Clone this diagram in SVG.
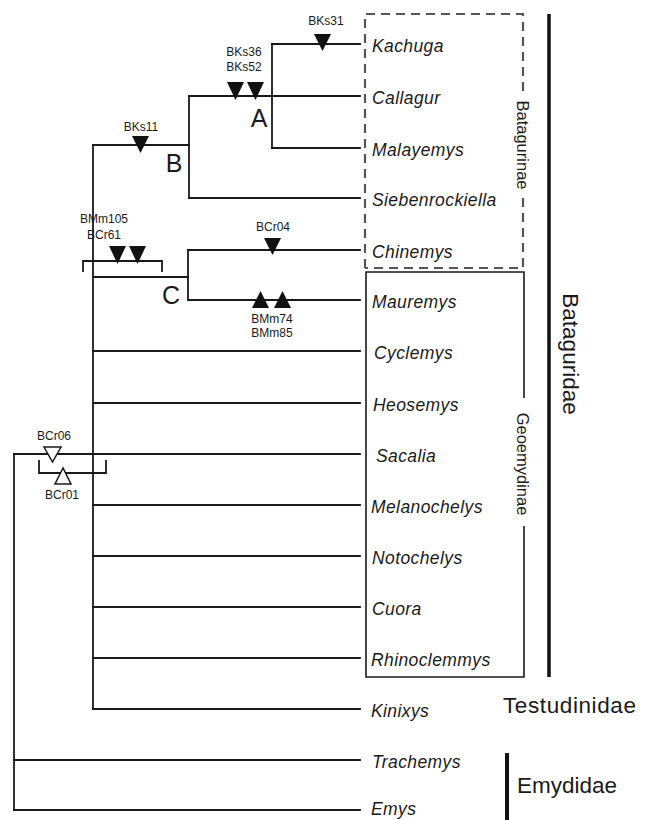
<svg xmlns="http://www.w3.org/2000/svg" width="650" height="820" viewBox="0 0 650 820">
<defs>
<style>
.ln{stroke:#1a1a1a;stroke-width:1.8;fill:none;stroke-linecap:square}
.tx{font-family:"Liberation Sans",Arial,sans-serif;font-style:italic;font-size:17.5px;letter-spacing:0.4px;fill:#1a1a1a}
.mk{font-family:"Liberation Sans",Arial,sans-serif;font-size:12px;fill:#1a1a1a;text-anchor:middle}
.cl{font-family:"Liberation Sans",Arial,sans-serif;font-size:25px;fill:#1a1a1a;text-anchor:middle}
.sub{font-family:"Liberation Sans",Arial,sans-serif;font-size:16.5px;fill:#1a1a1a;text-anchor:middle}
.fam{font-family:"Liberation Sans",Arial,sans-serif;font-size:22.5px;fill:#1a1a1a}
.tf{fill:#111;stroke:none}
.th{fill:#fff;stroke:#1a1a1a;stroke-width:1.5}
</style>
</defs>
<rect width="650" height="820" fill="#fff"/>

<g id="connectors">
  <!-- root -->
  <path class="ln" d="M14,454 V810"/>
  <path class="ln" d="M14,454 H93"/>
  <path class="ln" d="M14,760 H360"/>
  <path class="ln" d="M14,810 H360"/>
  <!-- main polytomy -->
  <path class="ln" d="M93,145 V709"/>
  <!-- B clade -->
  <path class="ln" d="M93,145 H189"/>
  <path class="ln" d="M189,96 V198"/>
  <path class="ln" d="M189,96 H360"/>
  <path class="ln" d="M189,198 H360"/>
  <!-- A clade -->
  <path class="ln" d="M272,44 V148"/>
  <path class="ln" d="M272,44 H360"/>
  <path class="ln" d="M272,148 H360"/>
  <!-- C clade -->
  <path class="ln" d="M93,277 H188"/>
  <path class="ln" d="M188,250 V300"/>
  <path class="ln" d="M188,250 H360"/>
  <path class="ln" d="M188,300 H360"/>
  <!-- other geoemydines -->
  <path class="ln" d="M93,351 H360"/>
  <path class="ln" d="M93,403 H360"/>
  <path class="ln" d="M93,454 H360"/>
  <path class="ln" d="M93,505 H360"/>
  <path class="ln" d="M93,556 H360"/>
  <path class="ln" d="M93,607 H360"/>
  <path class="ln" d="M93,658 H360"/>
  <path class="ln" d="M93,709 H360"/>
  <!-- brackets -->
  <path class="ln" d="M83,271 V261 H162 V271" stroke-width="1.5"/>
  <path class="ln" d="M39,461 V473 H106 V461" stroke-width="1.5"/>
</g>

<g id="boxes">
  <g id="box-batagurinae">
    <path d="M365,268 V14 H523 V92" fill="none" stroke="#555" stroke-width="2.2" stroke-dasharray="9 6"/>
    <path d="M523,198 V268 H365" fill="none" stroke="#555" stroke-width="2.2" stroke-dasharray="9 6"/>
    <rect x="522" y="88" width="2" height="3" fill="#555"/>
    <text class="sub" transform="translate(517,145) rotate(90)">Batagurinae</text>
  </g>
  <g id="box-geoemydinae">
    <path d="M524,398 V272 H366 V677 H524 V526" fill="none" stroke="#1a1a1a" stroke-width="1.6"/>
    <text class="sub" transform="translate(517,464) rotate(90)">Geoemydinae</text>
  </g>
</g>

<g id="families">
  <g id="fam-bataguridae">
    <path d="M549,14 V677" stroke="#111" stroke-width="3.5"/>
    <text class="fam" text-anchor="middle" transform="translate(563,354) rotate(90)">Bataguridae</text>
  </g>
  <g id="fam-testudinidae">
    <text class="fam" x="503" y="713" letter-spacing="0.6">Testudinidae</text>
  </g>
  <g id="fam-emydidae">
    <path d="M507,753 V820" stroke="#111" stroke-width="4"/>
    <text class="fam" x="517" y="793">Emydidae</text>
  </g>
</g>

<g id="taxa">
  <g id="t-kachuga"><text class="tx" x="372" y="52">Kachuga</text></g>
  <g id="t-callagur"><text class="tx" x="372" y="104">Callagur</text></g>
  <g id="t-malayemys"><text class="tx" x="372" y="156">Malayemys</text></g>
  <g id="t-siebenrockiella"><text class="tx" x="372" y="206">Siebenrockiella</text></g>
  <g id="t-chinemys"><text class="tx" x="372" y="258">Chinemys</text></g>
  <g id="t-mauremys"><text class="tx" x="372" y="308">Mauremys</text></g>
  <g id="t-cyclemys"><text class="tx" x="374" y="359">Cyclemys</text></g>
  <g id="t-heosemys"><text class="tx" x="373" y="411">Heosemys</text></g>
  <g id="t-sacalia"><text class="tx" x="376" y="462">Sacalia</text></g>
  <g id="t-melanochelys"><text class="tx" x="371" y="513">Melanochelys</text></g>
  <g id="t-notochelys"><text class="tx" x="372" y="564">Notochelys</text></g>
  <g id="t-cuora"><text class="tx" x="372" y="615">Cuora</text></g>
  <g id="t-rhinoclemmys"><text class="tx" x="371" y="666">Rhinoclemmys</text></g>
  <g id="t-kinixys"><text class="tx" x="371" y="717">Kinixys</text></g>
  <g id="t-trachemys"><text class="tx" x="372" y="768">Trachemys</text></g>
  <g id="t-emys"><text class="tx" x="371" y="815" font-size="16.5">Emys</text></g>
</g>

<g id="clade-labels">
  <g id="clade-A"><text class="cl" x="259" y="127">A</text></g>
  <g id="clade-B"><text class="cl" x="174" y="172">B</text></g>
  <g id="clade-C"><text class="cl" x="171" y="304">C</text></g>
</g>

<g id="markers">
  <g id="m-bks31">
    <text class="mk" x="326" y="25">BKs31</text>
    <path class="tf" d="M314,34 H331 L322.5,51 Z"/>
  </g>
  <g id="m-bks36-52">
    <text class="mk" x="244" y="56">BKs36</text>
    <text class="mk" x="244" y="71">BKs52</text>
    <path class="tf" d="M227,82 H244 L235.5,100 Z"/>
    <path class="tf" d="M247,82 H264 L255.5,100 Z"/>
  </g>
  <g id="m-bks11">
    <text class="mk" x="141" y="131">BKs11</text>
    <path class="tf" d="M132,136 H149 L140.5,153 Z"/>
  </g>
  <g id="m-bmm105-bcr61">
    <text class="mk" x="104" y="223" text-anchor="start">BMm105</text>
    <text class="mk" x="104" y="239" text-anchor="start">BCr61</text>
    <path class="tf" d="M109,246 H126 L117.5,264 Z"/>
    <path class="tf" d="M129,246 H146 L137.5,264 Z"/>
  </g>
  <g id="m-bcr04">
    <text class="mk" x="273" y="231">BCr04</text>
    <path class="tf" d="M264,238 H281 L272.5,255 Z"/>
  </g>
  <g id="m-bmm74-85">
    <path class="tf" d="M252,308 H269 L260.5,291 Z"/>
    <path class="tf" d="M274,308 H291 L282.5,291 Z"/>
    <text class="mk" x="272" y="323">BMm74</text>
    <text class="mk" x="272" y="337">BMm85</text>
  </g>
  <g id="m-bcr06">
    <text class="mk" x="54" y="440">BCr06</text>
    <path class="th" d="M44,447 H61 L52.5,462 Z"/>
  </g>
  <g id="m-bcr01">
    <path class="th" d="M55,484 H71 L63,468 Z"/>
    <text class="mk" x="62" y="499">BCr01</text>
  </g>
</g>
</svg>
